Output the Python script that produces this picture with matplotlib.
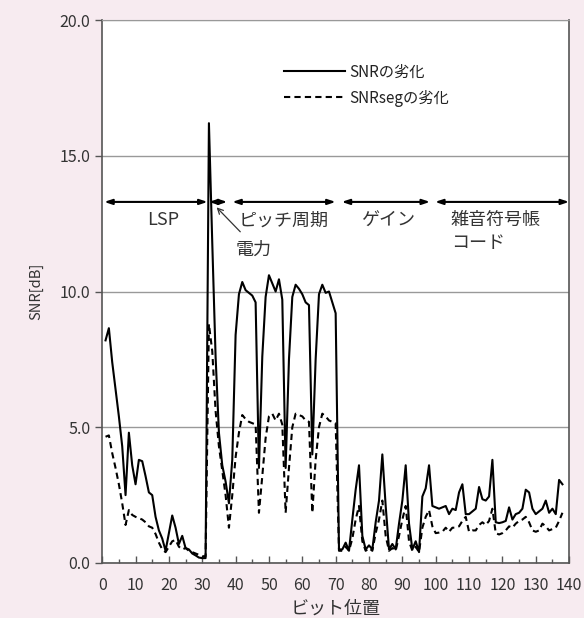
import numpy as np
import matplotlib
matplotlib.use("Agg")
import matplotlib.pyplot as plt

plt.rcParams['font.family'] = ['Noto Sans CJK JP', 'DejaVu Sans']

# ===== DATA =====
bits = np.arange(1, 139)

snr = [
    8.2, 8.65, 7.4, 6.4, 5.4, 4.3, 2.5, 4.8, 3.6, 2.9,
    3.8, 3.75, 3.2, 2.6, 2.5, 1.7, 1.2, 0.9, 0.45, 1.1,
    1.75, 1.3, 0.7, 1.0, 0.55, 0.5, 0.35, 0.28, 0.2, 0.18,
    0.18, 16.2, 11.8, 7.6, 4.8, 3.6, 3.0, 2.2, 3.8, 8.4,
    9.9, 10.35, 10.05, 9.95, 9.85, 9.6, 3.5, 7.6, 9.8, 10.6,
    10.3, 10.0, 10.45, 9.7, 3.5, 7.5, 9.8, 10.25, 10.1, 9.9,
    9.6, 9.5, 4.0, 7.5, 9.9, 10.25, 9.95, 10.0, 9.6, 9.2,
    0.5, 0.5, 0.75, 0.45, 1.6, 2.7, 3.6, 1.0, 0.5, 0.65,
    0.5, 1.5, 2.3, 4.0, 2.1, 0.5, 0.7, 0.5, 1.45, 2.3,
    3.6, 1.45, 0.5, 0.8, 0.4, 2.45, 2.75, 3.6, 2.1, 2.05,
    2.0, 2.05, 2.1, 1.8, 2.0, 1.95, 2.6, 2.9, 1.8, 1.8,
    1.9, 2.0, 2.8, 2.35, 2.3, 2.45, 3.8, 1.5, 1.47, 1.5,
    1.55, 2.05, 1.6, 1.8, 1.85, 2.0, 2.7, 2.6, 2.0, 1.8,
    1.9, 2.0, 2.3, 1.85, 2.0, 1.8, 3.06, 2.9,
]

snrseg = [
    4.65, 4.7, 4.05, 3.5, 2.9, 2.2, 1.4, 1.95, 1.77, 1.7,
    1.65, 1.6, 1.5, 1.35, 1.3, 1.07, 0.75, 0.5, 0.4, 0.6,
    0.8, 0.85, 0.6, 0.5, 0.55, 0.45, 0.4, 0.35, 0.3, 0.25,
    0.25, 8.8, 7.8, 5.6, 4.3, 3.4, 2.5, 1.3, 2.5, 3.9,
    4.8, 5.45, 5.3, 5.2, 5.15, 5.1, 1.85, 3.2, 4.6, 5.4,
    5.5, 5.25, 5.5, 5.1, 1.85, 3.5, 5.0, 5.5, 5.45, 5.4,
    5.25, 5.2, 1.85, 3.8, 5.0, 5.5, 5.4, 5.25, 5.2, 5.15,
    0.45, 0.45, 0.6, 0.45, 0.9, 1.6, 2.1, 0.8, 0.45, 0.55,
    0.45, 1.1, 1.6, 2.3, 1.0, 0.45, 0.55, 0.45, 1.0, 1.6,
    2.1, 0.8, 0.45, 0.6, 0.4, 1.3, 1.7, 1.95, 1.35, 1.1,
    1.12, 1.15, 1.3, 1.15, 1.3, 1.3, 1.35, 1.55, 1.7, 1.15,
    1.2, 1.2, 1.4, 1.5, 1.4, 1.55, 2.0, 1.1, 1.05, 1.1,
    1.2, 1.35, 1.3, 1.45, 1.55, 1.6, 1.7, 1.5, 1.2, 1.15,
    1.2, 1.45, 1.35, 1.2, 1.25, 1.3, 1.55, 1.85,
]

# bit-field spans (start, end) and their labels
segments = [(0.6, 31.6), (32.0, 37.5), (39.0, 70.0), (71.8, 98.3), (99.8, 140.0)]
seg_labels = ["LSP", "ピッチ周期", "ゲイン", "雑音符号帳\nコード"]
seg_label_x = [13.5, 41.0, 77.5, 104.5]
arrow_y = 13.3

# ===== FIGURE =====
fig = plt.figure(figsize=(5.84, 6.18), dpi=100, facecolor="#f7ebf0")
ax = fig.add_axes([0.175, 0.089, 0.7995, 0.8786])
ax.set_facecolor("white")

ax.plot(bits, snr, color="black", lw=1.5, label="SNRの劣化")
ax.plot(bits, snrseg, color="black", lw=1.5, ls=(0, (3, 2)), label="SNRsegの劣化")

# ===== SEGMENT ARROWS =====
for x0, x1 in segments:
    ax.annotate("", xy=(x1, arrow_y), xytext=(x0, arrow_y),
                arrowprops=dict(arrowstyle="<|-|>,head_length=0.45,head_width=0.15",
                                color="black", lw=1.5, shrinkA=0, shrinkB=0))

for lab, xl in zip(seg_labels, seg_label_x):
    ax.text(xl, 12.95, lab, fontsize=13, color="#333333", va="top", ha="left",
            linespacing=1.3)

ax.text(40.0, 11.85, "電力", fontsize=13, color="#333333", va="top", ha="left")
ax.annotate("", xy=(34.3, 13.1), xytext=(41.4, 12.2),
            arrowprops=dict(arrowstyle="->", color="#333333", lw=0.9,
                            shrinkA=0, shrinkB=0))

# ===== AXES =====
ax.set_xlim(0, 140)
ax.set_ylim(0, 20)
ax.set_xticks(np.arange(0, 141, 10))
ax.set_xticks(np.arange(5, 140, 10), minor=True)
ax.set_yticks(np.arange(0, 20.1, 5))
ax.set_yticklabels([f"{v:.1f}" for v in np.arange(0, 20.1, 5)])
ax.tick_params(axis="x", direction="in", length=5, width=1, colors="#555555",
               labelcolor="#333333", labelsize=11.5, pad=10)
ax.tick_params(axis="x", which="minor", direction="in", length=3, width=1,
               colors="#555555")
ax.tick_params(axis="y", direction="out", length=5, width=1, colors="#555555",
               labelcolor="#333333", labelsize=11.5)

ax.yaxis.grid(True, color="#999999", lw=1)
ax.set_axisbelow(True)
for side in ["left", "bottom", "right"]:
    ax.spines[side].set_color("#555555")
    ax.spines[side].set_linewidth(1.2)
ax.spines["top"].set_color("#999999")

ax.set_xlabel("ビット位置", fontsize=13, color="#333333", labelpad=4)
ax.set_ylabel("SNR[dB]", fontsize=10.5, color="#333333", labelpad=12)

ax.legend(loc="upper left", bbox_to_anchor=(0.36, 0.945), frameon=False,
          fontsize=11, handlelength=4.0, handletextpad=0.25, labelspacing=0.6,
          labelcolor="#222222")

fig.savefig("out.png", dpi=100, facecolor=fig.get_facecolor())
